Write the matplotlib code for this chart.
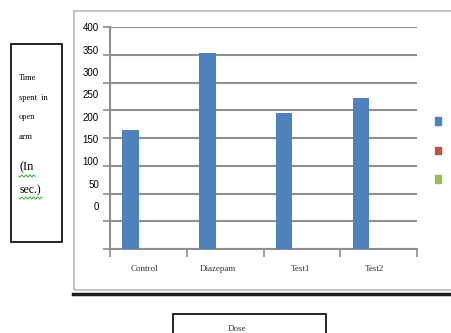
import numpy as np
import matplotlib
matplotlib.use("Agg")
import matplotlib.pyplot as plt
from matplotlib.patches import Rectangle
from matplotlib.lines import Line2D

# data (bar heights read against the gridlines, 0..400 step 50)
categories = ["Control", "Diazepam", "Test1", "Test2"]
series1 = [215, 354, 245, 272]
series2 = [0, 0, 0, 0]
series3 = [0, 0, 0, 0]
grid_vals = [0, 50, 100, 150, 200, 250, 300, 350, 400]
tick_labels = ["0", "50", "100", "150", "200", "250", "300", "350", "400"]
side_lines = ["Time", "spent  in", "open", "arm", "(In", "sec.)"]
x_title = "Dose"

W, H = 451, 333
fig = plt.figure(figsize=(W / 100, H / 100), dpi=100)

def fx(px):
    return px / W

def fy(py):
    return 1 - py / H

serif = ["Liberation Serif", "DejaVu Serif"]
narrow = ["Liberation Sans Narrow", "Liberation Sans", "DejaVu Sans"]
gridc = "#8f8f8f"

# outer chart frame
fig.patches.append(Rectangle((fx(74), fy(290)), fx(400), fy(11) - fy(290),
                             transform=fig.transFigure, fill=False,
                             edgecolor="#c4c4c4", lw=1.5))
fig.lines.append(Line2D([fx(73), 1], [fy(294), fy(294)], transform=fig.transFigure,
                        color="#1e1e1e", lw=2.5))

# plot area
ax = fig.add_axes([fx(110), fy(249), fx(417) - fx(110), fy(27.3) - fy(249)])
x = np.arange(len(categories))
bw = 0.215
ax.bar(x - 0.23, series1, bw, color="#4F81BD", zorder=3)
ax.bar(x, series2, bw, color="#C0504D", zorder=3)
ax.bar(x + 0.23, series3, bw, color="#9BBB59", zorder=3)
ax.set_xlim(-0.5, len(categories) - 0.5)
ax.set_ylim(0, 400)
ax.set_yticks(grid_vals)
ax.set_yticklabels([])
ax.yaxis.grid(True, color=gridc, lw=1.5, zorder=0)
ax.tick_params(axis="y", length=5, color=gridc, width=1.2)
ax.set_xticks(x)
ax.set_xticklabels([])
ax.tick_params(axis="x", which="major", length=0)
ax.set_xticks(np.arange(-0.5, len(categories)), minor=True)
ax.tick_params(axis="x", which="minor", length=6, color=gridc, width=1.2)
for s in ["top", "right"]:
    ax.spines[s].set_visible(False)
for s in ["left", "bottom"]:
    ax.spines[s].set_color(gridc)
    ax.spines[s].set_linewidth(1.5)

# mismatched value labels on their own scale
ax2 = ax.twinx()
ax2.yaxis.tick_left()
ax2.set_ylim(-96, 400)
ax2.set_yticks(grid_vals)
ax2.set_yticklabels(tick_labels, family=narrow, fontsize=7)
ax2.tick_params(axis="y", length=0, pad=8)
for s in ax2.spines.values():
    s.set_visible(False)

# category labels
label_x = [144, 218, 300, 374]
for lx, c in zip(label_x, categories):
    fig.text(fx(lx), fy(269), c, family=serif, fontsize=6.5, ha="center", va="center",
             color="#333333")

# legend swatches without text
for sy, col in zip([121, 150.5, 178.5], ["#4F81BD", "#C0504D", "#9BBB59"]):
    fig.patches.append(Rectangle((fx(435), fy(sy + 4)), fx(6), fy(sy - 4) - fy(sy + 4),
                                 transform=fig.transFigure, color=col))

# left box
fig.patches.append(Rectangle((fx(11), fy(242)), fx(51), fy(44) - fy(242),
                             transform=fig.transFigure, fill=False,
                             edgecolor="black", lw=1.2))
line_y = [78, 98, 117, 137, 167, 190]
sizes = [6, 6, 6, 6.5, 9, 8.5]
for ly, t, fs in zip(line_y, side_lines, sizes):
    fig.text(fx(19), fy(ly), t, family=serif, fontsize=fs, ha="left", va="center")
for x0, x1, uy in [(19, 35, 176), (19, 42, 198)]:
    xs = np.linspace(x0, x1, 40)
    ys = uy + 1.0 * np.sin((xs - x0) * 1.6)
    fig.lines.append(Line2D(fx(xs), fy(ys), transform=fig.transFigure,
                            color="#3aa83a", lw=0.7))

# bottom box
fig.patches.append(Rectangle((fx(173), fy(340)), fx(153), fy(314) - fy(340),
                             transform=fig.transFigure, fill=False,
                             edgecolor="black", lw=1.2))
fig.text(fx(237), fy(329), x_title, family=serif, fontsize=6.5, ha="center", va="center",
         color="#333333")

fig.savefig("out.png", dpi=100)
